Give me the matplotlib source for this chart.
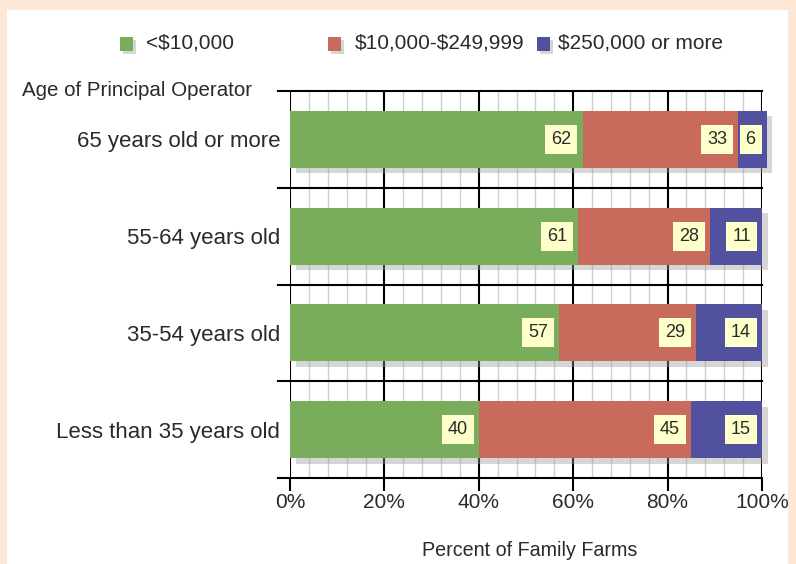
import matplotlib
matplotlib.use('Agg')
from matplotlib import pyplot as plt
from matplotlib import patheffects as pe
from matplotlib.patches import Rectangle

ages = ['Less than 35 years old', '35-54 years old', '55-64 years old', '65 years old or more']
under_10k = [40, 57, 61, 62]
mid_sales = [45, 29, 28, 33]
over_250k = [15, 14, 11, 6]
series_names = ['<$10,000', '$10,000-$249,999', '$250,000 or more']
colors = ['#79ad5b', '#c96b5c', '#51519f']
xticks = [0, 20, 40, 60, 80, 100]
xtick_labels = ['0%', '20%', '40%', '60%', '80%', '100%']

plt.rcParams['font.family'] = ['Liberation Sans', 'DejaVu Sans']
plt.rcParams['text.parse_math'] = False
txt = '#2a2a2a'

fig = plt.figure(figsize=(7.96, 5.64), dpi=100, facecolor='#fde8d7')
bg = Rectangle((7 / 796, 0), 781 / 796, 1 - 10 / 564, transform=fig.transFigure,
               facecolor='white', edgecolor='none', zorder=-10)
fig.patches.append(bg)

ax = fig.add_axes([290 / 796, 1 - 478 / 564, 472 / 796, 387 / 564])
ax.set_zorder(1)
ax.patch.set_alpha(0)
ax.set_xlim(0, 100)
ax.set_ylim(0, 4)

# grid
for x in range(0, 101, 4):
    if x % 20:
        ax.axvline(x, color='#cfcfcf', lw=1, zorder=1)
for x in xticks:
    ax.axvline(x, color='black', lw=1.5, zorder=1)
for k in range(0, 5):
    ax.plot([-2.6, 100], [k, k], color='black', lw=1.5, clip_on=False, zorder=2)

shadow = [pe.SimplePatchShadow(offset=(4, -4), shadow_rgbFace='#999999', alpha=0.4), pe.Normal()]
ypos = [i + 0.5 for i in range(len(ages))]
left = [0] * len(ages)
for vals, name, c in zip([under_10k, mid_sales, over_250k], series_names, colors):
    ax.barh(ypos, vals, left=left, height=0.59, color=c, zorder=3, clip_on=False,
            path_effects=shadow, label=name)
    for y, l, v in zip(ypos, left, vals):
        ax.annotate(str(v), (l + v, y), xytext=(-8, 0), textcoords='offset points',
                    ha='right', va='center', fontsize=13, color=txt, zorder=5,
                    annotation_clip=False,
                    bbox=dict(boxstyle='square,pad=0.33', fc='#ffffcc', ec='none'))
    left = [a + b for a, b in zip(left, vals)]

for s in ax.spines.values():
    s.set_visible(False)
ax.set_xticks(xticks)
ax.set_xticklabels(xtick_labels)
ax.set_yticks(ypos)
ax.set_yticklabels(ages)
ax.tick_params(axis='x', length=9, width=1.5, color='black', labelsize=15, labelcolor=txt, pad=2)
ax.tick_params(axis='y', length=0, labelsize=16, labelcolor=txt, pad=7)

fig.text(22 / 796, 1 - 91 / 564, 'Age of Principal Operator', fontsize=14.8, color=txt,
         ha='left', va='center')
fig.text(530 / 796, 1 - 551 / 564, 'Percent of Family Farms', fontsize=14.2, color=txt,
         ha='center', va='center')

# legend
leg_box_x = [120, 328, 537]
leg_text_x = [146, 355, 558]
for bx, tx, name, c in zip(leg_box_x, leg_text_x, series_names, colors):
    fig.patches.append(Rectangle((bx / 796, 1 - 51 / 564), 13 / 796, 14 / 564,
                                 transform=fig.transFigure, facecolor=c, edgecolor='none',
                                 path_effects=[pe.SimplePatchShadow(offset=(2.5, -2.5), shadow_rgbFace='#999999',
                                                                    alpha=0.4), pe.Normal()]))
    fig.text(tx / 796, 1 - 43 / 564, name, fontsize=15, color=txt, ha='left', va='center')

plt.savefig('out.png', dpi=100, facecolor=fig.get_facecolor())
